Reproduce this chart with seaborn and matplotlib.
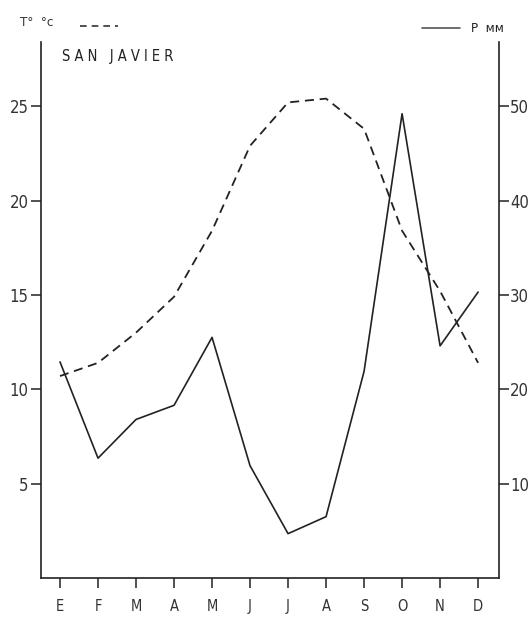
import matplotlib
matplotlib.use("Agg")
import matplotlib.pyplot as plt
import seaborn as sns
import pandas as pd
from matplotlib import font_manager

months = ["E", "F", "M", "A", "M", "J", "J", "A", "S", "O", "N", "D"]
temperature = [10.7, 11.4, 13.0, 14.9, 18.4, 22.9, 25.2, 25.4, 23.8, 18.4, 15.2, 11.4]
precipitation = [22.9, 12.7, 16.8, 18.3, 25.5, 11.9, 4.7, 6.5, 21.9, 49.2, 24.6, 30.3]
left_ticks = [5, 10, 15, 20, 25]
right_ticks = [10, 20, 30, 40, 50]

sns.set_theme(style="white")
names = {f.name for f in font_manager.fontManager.ttflist}
fam = "Liberation Sans Narrow" if "Liberation Sans Narrow" in names else "DejaVu Sans"
plt.rcParams['font.family'] = [fam, 'DejaVu Sans']
plt.rcParams['font.stretch'] = 'condensed'

df = pd.DataFrame({"x": range(12), "t": temperature, "p": precipitation})

fig = plt.figure(figsize=(5.29, 6.17), dpi=100)
ax = fig.add_axes([41/529, 1-578/617, (499-41)/529, (578-42)/617])
sns.lineplot(data=df, x="x", y="t", ax=ax, color="#222222", lw=1.3, linestyle=(0, (5, 3.2)))
ax2 = ax.twinx()
sns.lineplot(data=df, x="x", y="p", ax=ax2, color="#222222", lw=1.2)

ax.set_xlim(-0.5, 11.55)
ax.set_ylim(0, 28.4)
ax2.set_ylim(0, 56.8)
ax.set_xticks(range(12))
ax.set_xticklabels(months, fontsize=10.5)
ax.set_yticks(left_ticks)
ax.set_yticklabels([str(v) for v in left_ticks], fontsize=12)
ax2.set_yticks(right_ticks)
ax2.set_yticklabels([str(v) for v in right_ticks], fontsize=12)
for a in (ax, ax2):
    a.set_xlabel("")
    a.set_ylabel("")
    a.spines["top"].set_visible(False)
    for s in ("left", "right", "bottom"):
        a.spines[s].set_color("#222222")
        a.spines[s].set_linewidth(1.2)
ax.spines["right"].set_visible(False)
ax2.spines["left"].set_visible(False)
ax2.spines["bottom"].set_visible(False)
ax.tick_params(axis="both", direction="out", length=7, width=1.1, color="#222222",
               labelcolor="#333333", left=True, bottom=True, pad=8)
ax.tick_params(axis="y", pad=2)
ax2.tick_params(axis="y", direction="out", length=7, width=1.1, color="#222222",
                labelcolor="#333333", right=True, pad=1)

fig.text(20/529, 1-22/617, "T°  °c", fontsize=9.5, color="#333333", va="center")
fig.add_artist(plt.Line2D([80/529, 118/529], [1-26/617, 1-26/617], color="#333333",
                          lw=1.2, linestyle=(0, (4, 3))))
fig.text(62/529, 1-57/617, "S A N   J A V I E R", fontsize=10.5, color="#222222", va="center")
fig.add_artist(plt.Line2D([422/529, 460/529], [1-28/617, 1-28/617], color="#555555", lw=1.2))
fig.text(471/529, 1-28/617, "P  мм", fontsize=9.5, color="#222222", va="center")

fig.savefig("out.png", dpi=100)
